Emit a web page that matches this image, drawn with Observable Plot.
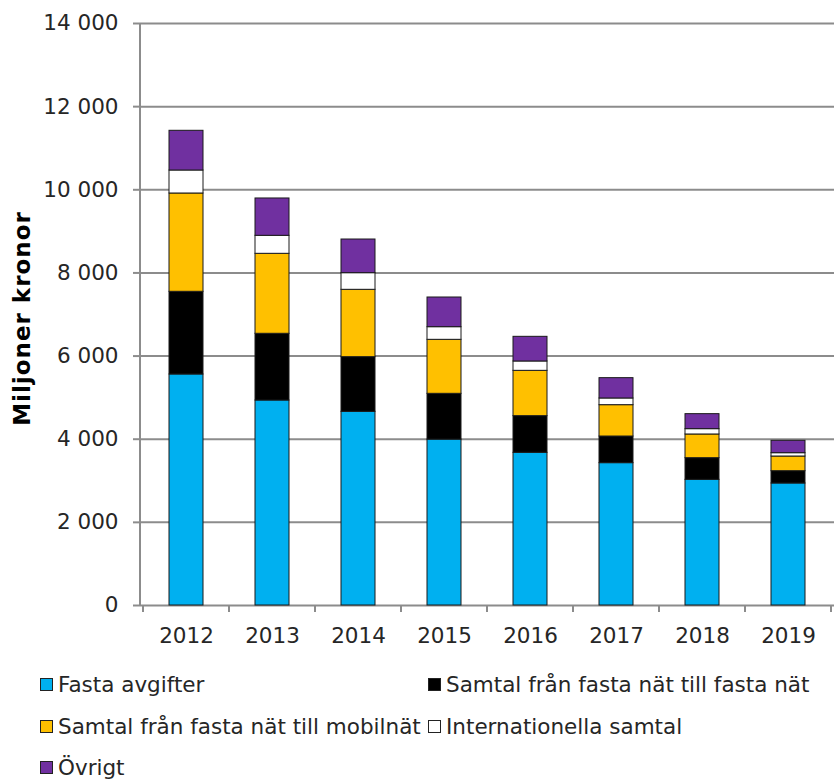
<!DOCTYPE html>
<html>
<head>
<meta charset="utf-8">
<script src="https://cdn.jsdelivr.net/npm/d3@7"></script>
<script src="https://cdn.jsdelivr.net/npm/@observablehq/plot@0.6"></script>
<style>
  html, body { margin: 0; padding: 0; background: #fff; }
  #wrap { position: relative; width: 834px; height: 780px; font-family: "DejaVu Sans", Verdana, sans-serif; color: #262626; }
  #legend { position: absolute; left: 40px; top: 664px; display: grid; grid-template-columns: 388px auto; grid-auto-rows: 41.5px; font-size: 21.5px; }
  .item { display: flex; align-items: center; white-space: nowrap; }
  .sw { width: 11px; height: 11px; border: 1px solid #222; margin-right: 5px; flex: none; }
</style>
</head>
<body>
<div id="wrap"><div id="chart"></div><div id="legend"></div></div>
<script>
const years = ["2012","2013","2014","2015","2016","2017","2018","2019"];
const seriesNames = [
  "Fasta avgifter",
  "Samtal från fasta nät till fasta nät",
  "Samtal från fasta nät till mobilnät",
  "Internationella samtal",
  "Övrigt"
];
const seriesColors = ["#00B0F0", "#000000", "#FFC000", "#FFFFFF", "#7030A0"];
const fastaAvgifter   = [5557, 4931, 4659, 3990, 3673, 3424, 3023, 2935];
const fastaTillFasta  = [1989, 1605, 1315, 1102,  882,  641,  521,  296];
const fastaTillMobil  = [2365, 1924, 1620, 1299, 1090,  754,  570,  353];
const internationella = [ 553,  433,  400,  304,  225,  161,  128,   80];
const ovrigt          = [ 955,  898,  810,  714,  593,  489,  361,  298];
const yTicks = [0, 2000, 4000, 6000, 8000, 10000, 12000, 14000];
const yLabel = "Miljoner kronor";

const seriesValues = [fastaAvgifter, fastaTillFasta, fastaTillMobil, internationella, ovrigt];
const data = [];
years.forEach((yr, i) => {
  seriesNames.forEach((s, j) => data.push({year: yr, series: s, value: seriesValues[j][i]}));
});

const fmt = d => d3.format(",")(d).replace(/,/g, " ");

const axisFrame = (index, scales, values, dims) => {
  const x = scales.x, y = scales.y;
  const g = d3.create("svg:g").attr("stroke", "#8c8c8c").attr("stroke-width", 2);
  const y0 = y(0), yTop = y(d3.max(yTicks));
  const step = x.step(), bw = x.bandwidth();
  g.append("line").attr("x1", dims.marginLeft).attr("x2", dims.marginLeft).attr("y1", yTop).attr("y2", y0);
  const bounds = years.map(d => x(d) + bw / 2 - step / 2);
  bounds.push(x(years[years.length - 1]) + bw / 2 + step / 2);
  bounds.forEach(b => g.append("line").attr("x1", b).attr("x2", b).attr("y1", y0).attr("y2", y0 + 7));
  return g.node();
};

const chart = Plot.plot({
  width: 834,
  height: 660,
  marginTop: 23,
  marginBottom: 55,
  marginLeft: 140,
  marginRight: 0,
  style: {fontFamily: "DejaVu Sans, Verdana, sans-serif", fontSize: "21.5px", color: "#262626", background: "#fff", overflow: "visible"},
  x: {domain: years, paddingInner: 0.6, paddingOuter: 0.3, label: null},
  y: {domain: [0, 14000], label: null},
  color: {domain: seriesNames, range: seriesColors},
  marks: [
    Plot.ruleY(yTicks, {stroke: "#8c8c8c", strokeWidth: 2}),
    Plot.axisY({ticks: yTicks, tickFormat: fmt, tickSize: 7, tickPadding: 15, stroke: "#8c8c8c", strokeWidth: 2, fontSize: 21.5, label: null}),
    Plot.axisX({tickSize: 0, tickPadding: 22, fontSize: 21.5, label: null}),
    Plot.barY(data, {x: "year", y: "value", fill: "series", stroke: "#1a1a1a", strokeWidth: 1}),
    axisFrame,
    Plot.text([yLabel], {frameAnchor: "left", textAnchor: "middle", dx: -118, dy: 4, rotate: -90, text: d => d, fontWeight: "bold", fontSize: 23, fill: "#000"})
  ]
});
document.getElementById("chart").appendChild(chart);
chart.querySelectorAll("text").forEach(t => { if (t.textContent === yLabel) t.setAttribute("letter-spacing", "1px"); });

const legend = document.getElementById("legend");
seriesNames.forEach((s, j) => {
  const it = document.createElement("div");
  it.className = "item";
  const sw = document.createElement("span");
  sw.className = "sw";
  sw.style.background = seriesColors[j];
  it.appendChild(sw);
  it.appendChild(document.createTextNode(s));
  legend.appendChild(it);
});
</script>
</body>
</html>
